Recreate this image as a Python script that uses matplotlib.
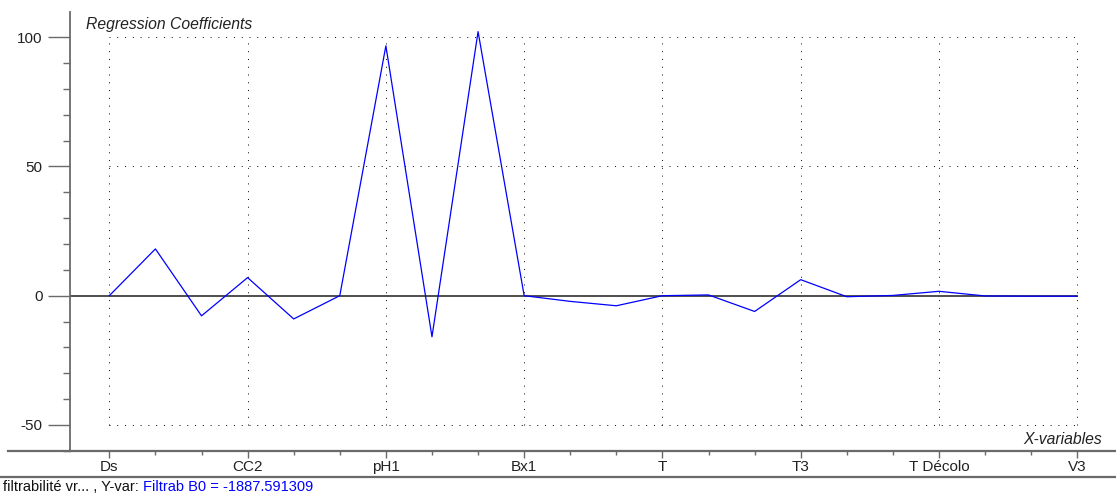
import matplotlib
matplotlib.use("Agg")
import matplotlib.pyplot as plt
from matplotlib.lines import Line2D
from matplotlib.ticker import MultipleLocator, FixedLocator
import numpy as np

plt.rcParams['font.family'] = ['Liberation Sans', 'DejaVu Sans']
plt.rcParams['axes.unicode_minus'] = False

# regression coefficients, one per x-variable (only every 3rd one is labelled)
coefs = [0.0, 18.1, -7.8, 7.0, -9.0, 0.0, 96.7, -15.9, 102.2, 0.0, -2.2,
         -3.9, 0.0, 0.3, -6.1, 6.2, -0.4, 0.1, 1.7, -0.1, -0.2, -0.2]
label_pos = [0, 3, 6, 9, 12, 15, 18, 21]
label_names = ['Ds', 'CC2', 'pH1', 'Bx1', 'T', 'T3', 'T Décolo', 'V3']
grid_y = [-50, 50, 100]
status_black = 'filtrabilité vr... , Y-var:'
status_blue = 'Filtrab B0 = -1887.591309'

W, H = 1116, 498
fig = plt.figure(figsize=(W / 100, H / 100), dpi=100)
ax = fig.add_axes([70 / W, 1 - 451 / H, 1 - 70 / W, (451 - 11.7) / H])

x = np.arange(len(coefs))
ax.set_xlim(-0.853, 21.84)
ax.set_ylim(-60.1, 109.9)

axis_col = '#6a6a6a'
# dotted grid, limited to the data range
for gy in grid_y:
    ax.plot([x[0], x[-1]], [gy, gy], color='black', lw=0.7,
            linestyle=(0, (1, 7)), zorder=1)
for gx in label_pos:
    ax.plot([gx, gx], [-50, 100], color='black', lw=0.7,
            linestyle=(0, (1, 7)), zorder=1)

# zero line
ax.plot([-0.853, x[-1]], [0, 0], color='#404040', lw=1.3, zorder=2)
# coefficients
ax.plot(x, coefs, color='#0000ff', lw=0.9, zorder=3)

for s in ['top', 'right']:
    ax.spines[s].set_visible(False)
ax.spines['left'].set_color(axis_col)
ax.spines['left'].set_linewidth(1.3)
ax.spines['bottom'].set_color(axis_col)
ax.spines['bottom'].set_linewidth(1.6)

ax.yaxis.set_major_locator(FixedLocator([-50, 0, 50, 100]))
ax.yaxis.set_minor_locator(MultipleLocator(10))
ax.xaxis.set_major_locator(FixedLocator(label_pos))
ax.xaxis.set_minor_locator(FixedLocator([i for i in x if i not in label_pos]))
ax.set_xticklabels(label_names)

ax.tick_params(axis='y', which='major', length=15.5, width=1, color=axis_col,
               pad=4.3, labelsize=11, labelcolor='#222222')
ax.tick_params(axis='y', which='minor', length=5, width=1, color=axis_col)
ax.tick_params(axis='x', which='major', length=5, width=1, color=axis_col,
               pad=1.5, labelsize=11, labelcolor='#222222')
ax.tick_params(axis='x', which='minor', length=3, width=1, color=axis_col)

ax.text(86 / W, 1 - 24 / H, 'Regression Coefficients', transform=fig.transFigure,
        fontsize=11.3, style='italic', color='#222222', ha='left', va='center')
ax.text(1102 / W, 1 - 439 / H, 'X-variables', transform=fig.transFigure,
        fontsize=11.3, style='italic', color='#222222', ha='right', va='center')

# x-axis line continues left of the y-axis; frame line under the labels
fig.add_artist(Line2D([8 / W, 70 / W], [1 - 451 / H, 1 - 451 / H],
                      transform=fig.transFigure, color=axis_col, lw=1.6))
fig.add_artist(Line2D([0, 1], [1 - 477 / H, 1 - 477 / H],
                      transform=fig.transFigure, color=axis_col, lw=1.6))

fig.text(3 / W, 1 - 487 / H, status_black, fontsize=10.5, color='#111111',
         ha='left', va='center')
fig.text(143 / W, 1 - 487 / H, status_blue, fontsize=10.5, color='#0000ff',
         ha='left', va='center')

fig.savefig('out.png', dpi=100)
